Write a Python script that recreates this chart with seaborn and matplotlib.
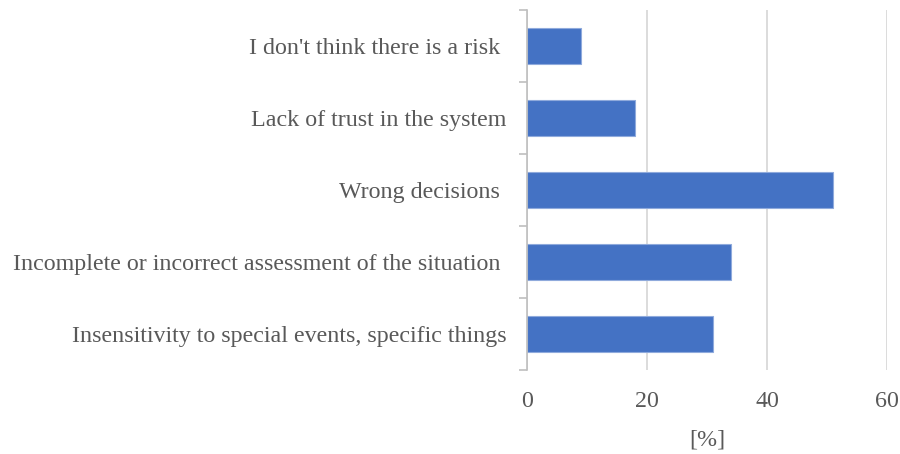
import matplotlib
matplotlib.use("Agg")
import matplotlib.pyplot as plt
import seaborn as sns
import pandas as pd
import numpy as np

categories = [
    "I don't think there is a risk ",
    "Lack of trust in the system",
    "Wrong decisions ",
    "Incomplete or incorrect assessment of the situation ",
    "Insensitivity to special events, specific things",
]
values = [9, 18, 51, 34, 31]
x_ticks = [0, 20, 40, 60]

sns.set_theme(style="white")
plt.rcParams["font.family"] = ["Liberation Serif", "DejaVu Serif"]

df = pd.DataFrame({"cat": categories, "val": values})

fig = plt.figure(figsize=(9, 4.54), dpi=100)
ax = fig.add_axes([527 / 900, 1 - 370 / 454, 360 / 900, 360 / 454])

sns.barplot(data=df, x="val", y="cat", orient="h", color="#4472C4",
            saturation=1, width=0.5, edgecolor="#8FAADC", linewidth=0.8, ax=ax)

FS = 17.3
ax.set_xlim(0, 60)
ax.set_ylim(len(categories) - 0.5, -0.5)
ax.set_xticks(x_ticks)
ax.set_xticklabels([str(t) for t in x_ticks])
ax.grid(axis="x", color="#D9D9D9", linewidth=1.3)
ax.set_axisbelow(True)
for s in ["top", "right", "bottom"]:
    ax.spines[s].set_visible(False)
ax.spines["left"].set_color("#BFBFBF")
ax.spines["left"].set_linewidth(1.2)

ax.set_yticks(np.arange(-0.5, len(categories), 1.0), minor=True)
ax.tick_params(axis="y", which="minor", length=6, color="#BFBFBF", width=1.2, left=True)
ax.tick_params(axis="y", which="major", length=0, pad=15, labelsize=FS, labelcolor="#595959")
ax.tick_params(axis="x", which="major", length=0, pad=15, labelsize=FS, labelcolor="#595959")

ax.set_ylabel("")
ax.set_xlabel("[%]", fontsize=FS, color="#595959", labelpad=13)

fig.savefig("out.png", dpi=100)
